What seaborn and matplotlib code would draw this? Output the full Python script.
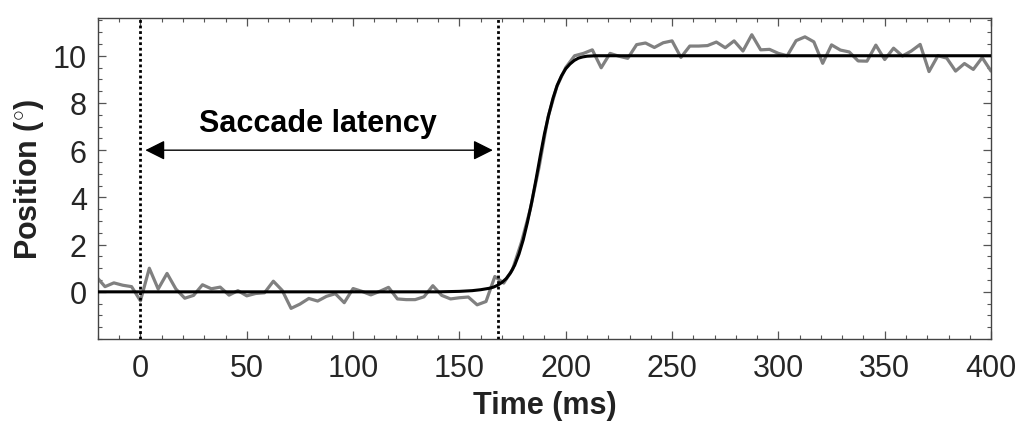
import numpy as np
import pandas as pd
import matplotlib
matplotlib.use("Agg")
import matplotlib.pyplot as plt
from matplotlib.ticker import MultipleLocator
import seaborn as sns

# ---------------- data ----------------
# raw eye position samples (240 Hz sampling, first sample index -5)
sample_rate_hz = 240
first_sample = -5
raw_position = [
    0.65, 0.22, 0.38, 0.28, 0.22,
    -0.38, 1.00, 0.12, 0.78, 0.12, -0.27, -0.15, 0.30, 0.13, 0.20,
    -0.14, 0.05, -0.17, -0.07, -0.04, 0.45, 0.06, -0.70, -0.52, -0.28,
    -0.39, -0.19, -0.08, -0.46, 0.14, 0.02, -0.13, 0.02, 0.19, -0.30,
    -0.33, -0.33, -0.21, 0.26, -0.15, -0.30, -0.25, -0.22, -0.55, -0.41,
    0.65, 0.37, 0.95, 2.10, 3.50, 5.30, 7.40, 8.70, 9.50, 10.00,
    10.10, 10.25, 9.49, 10.10, 9.98, 9.89, 10.47, 10.54, 10.35, 10.55,
    10.63, 9.93, 10.41, 10.41, 10.43, 10.58, 10.34, 10.63, 10.20, 10.89,
    10.25, 10.27, 10.10, 10.00, 10.64, 10.80, 10.59, 9.68, 10.46, 10.24,
    10.16, 9.78, 9.77, 10.45, 9.84, 10.32, 9.99, 10.20, 10.48, 9.33,
    10.00, 9.90, 9.35, 9.67, 9.42, 9.92, 9.35,
]
raw_time_ms = (np.arange(len(raw_position)) + first_sample) * 1000.0 / sample_rate_hz

# fitted sigmoid
fit_time_ms = [-20, 140, 150, 156, 160, 164, 166, 168, 170, 172, 174, 176, 178,
               180, 182, 184, 186, 188, 190, 192, 194, 196, 198, 200, 202,
               204, 206, 208, 210, 214, 400]
fit_position = [0.0, 0.0, 0.02, 0.05, 0.09, 0.15, 0.20, 0.28, 0.40, 0.56, 0.80,
                1.13, 1.60, 2.20, 2.95, 3.80, 4.75, 5.75, 6.70, 7.50, 8.20,
                8.75, 9.15, 9.45, 9.65, 9.80, 9.90, 9.95, 9.98, 10.0, 10.0]

target_onset_ms = 0
saccade_onset_ms = 168
annotation_text = "Saccade latency"
x_label = "Time (ms)"
y_label = r"Position ($^{\circ}$)"
x_ticks = [0, 50, 100, 150, 200, 250, 300, 350, 400]
y_ticks = [0, 2, 4, 6, 8, 10]

# ---------------- plot ----------------
sns.set_theme(style="ticks")
plt.rcParams["font.family"] = ["Liberation Sans", "DejaVu Sans"]
plt.rcParams["mathtext.fontset"] = "custom"
plt.rcParams["mathtext.rm"] = "Liberation Sans"

fig, ax = plt.subplots(figsize=(10.2, 4.31), dpi=100)
fig.subplots_adjust(left=0.096, right=0.9716, bottom=0.211, top=0.956)

raw_df = pd.DataFrame({"t": raw_time_ms, "pos": raw_position})
fit_df = pd.DataFrame({"t": fit_time_ms, "pos": fit_position})

sns.lineplot(data=raw_df, x="t", y="pos", color="#808080", lw=2.3,
             estimator=None, ax=ax, zorder=2)
sns.lineplot(data=fit_df, x="t", y="pos", color="black", lw=2.2,
             estimator=None, ax=ax, zorder=3)

for xv in (target_onset_ms, saccade_onset_ms):
    ax.axvline(xv, color="black", lw=2.0, ls=(0, (1, 1)), zorder=4)

ax.annotate("", xy=(target_onset_ms, 6), xytext=(saccade_onset_ms, 6),
            arrowprops=dict(arrowstyle="<|-|>,head_length=0.4,head_width=0.2",
                            mutation_scale=30, color="black", lw=1.0,
                            shrinkA=3.5, shrinkB=3.5), zorder=5)
ax.text(83.5, 6.82, annotation_text, ha="center", va="baseline",
        fontsize=22, fontweight="bold", color="black")

ax.set_xlim(-20, 400)
ax.set_ylim(-2, 11.6)
ax.set_xticks(x_ticks)
ax.set_yticks(y_ticks)
ax.xaxis.set_minor_locator(MultipleLocator(10))
ax.yaxis.set_minor_locator(MultipleLocator(0.5))

ax.tick_params(which="both", direction="in", top=True, right=True,
               color="#555555", labelsize=22, labelcolor="#262626")
ax.tick_params(which="major", length=6, width=0.9)
ax.tick_params(which="minor", length=3, width=0.8)
ax.tick_params(axis="x", which="major", pad=10)
ax.tick_params(axis="y", which="major", pad=8)

for sp in ax.spines.values():
    sp.set_visible(True)
    sp.set_color("#444444")
    sp.set_linewidth(1.0)

ax.set_xlabel(x_label, fontsize=22, fontweight="bold", color="#222222", labelpad=5)
ax.set_ylabel(y_label, fontsize=22, fontweight="bold", color="#222222", labelpad=5)

fig.savefig("out.png", dpi=100)
